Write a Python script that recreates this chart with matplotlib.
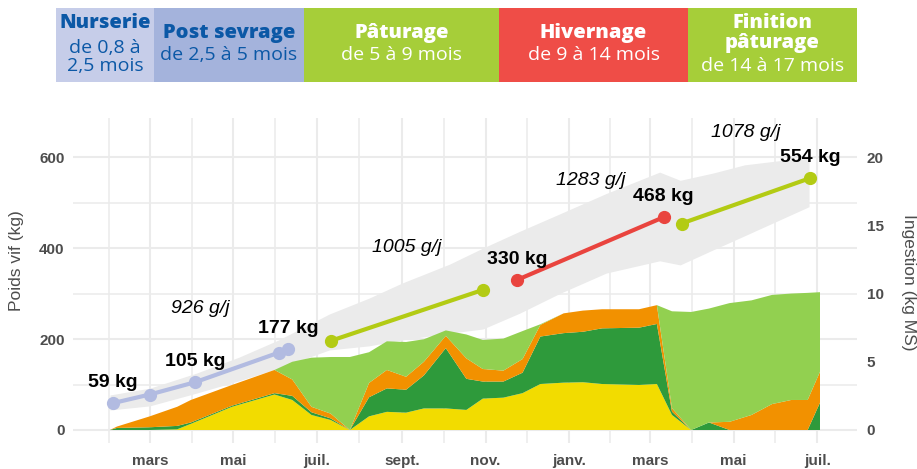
import matplotlib
matplotlib.use("Agg")
import matplotlib.pyplot as plt
from matplotlib.patches import Rectangle
import numpy as np
import pandas as pd

# ---------------- data ----------------
# stacked daily intake (kg MS), read on the right axis
area_dates = ['2022-01-31', '2022-02-05', '2022-03-01', '2022-03-21', '2022-03-31',
              '2022-04-30', '2022-05-31', '2022-06-13', '2022-06-27', '2022-07-11',
              '2022-07-25', '2022-08-08', '2022-08-21', '2022-09-04', '2022-09-17',
              '2022-10-03', '2022-10-18', '2022-10-30', '2022-11-14', '2022-11-28',
              '2022-12-11', '2022-12-28', '2023-01-11', '2023-01-25', '2023-02-21',
              '2023-03-06', '2023-03-17', '2023-03-31', '2023-04-13', '2023-04-28',
              '2023-05-14', '2023-05-29', '2023-06-12', '2023-06-24', '2023-07-03']
intake_yellow = [0, 0, 0, 0.05, 0.45, 1.7, 2.6, 2.2, 1.1, 0.73,
                 0, 1.0, 1.33, 1.27, 1.58, 1.58, 1.47, 2.3, 2.37, 2.7,
                 3.37, 3.47, 3.5, 3.37, 3.3, 3.37, 1.1, 0, 0, 0,
                 0, 0, 0, 0, 0]
intake_dkgreen = [0, 0.15, 0.2, 0.25, 0.1, 0.08, 0.1, 0.3, 0.2, 0.12,
                  0, 1.4, 1.72, 1.68, 2.42, 4.42, 2.28, 1.25, 1.18, 1.5,
                  3.48, 3.63, 3.7, 4.08, 4.2, 4.4, 0.25, 0, 0.55, 0,
                  0, 0, 0, 0, 2.0]
intake_orange = [0, 0.10, 0.8, 1.4, 1.65, 1.52, 1.7, 1.2, 0.4, 0.35,
                 0, 1.05, 1.35, 0.95, 1.0, 0.9, 1.5, 0.92, 0.8, 1.0,
                 0.85, 1.45, 1.55, 1.4, 1.35, 1.38, 0.25, 0, 0, 0.6,
                 1.1, 1.9, 2.2, 2.2, 2.27]
intake_ltgreen = [0, 0, 0, 0, 0, 0, 0, 1.3, 3.6, 4.15,
                  5.35, 2.25, 2.1, 2.55, 1.65, 0.4, 1.75, 2.13, 2.35, 2.05,
                  0.05, 0, 0, 0, 0, 0, 7.1, 8.65, 8.35, 8.7,
                  8.4, 8.0, 7.8, 7.85, 5.83]

# grey weight envelope (kg)
ribbon_dates = ['2022-01-31', '2022-03-01', '2022-04-04', '2022-05-05', '2022-06-03',
                '2022-07-10', '2022-08-08', '2022-09-01', '2022-10-06', '2022-10-30',
                '2022-11-26', '2022-12-25', '2023-01-28', '2023-03-08', '2023-03-23',
                '2023-04-16', '2023-05-09', '2023-06-25']
ribbon_low = [44, 53, 81, 108, 136, 176, 185, 198, 213, 222, 257, 300, 345, 372, 363, 396, 427, 491]
ribbon_high = [77, 92, 125, 160, 198, 255, 290, 323, 365, 400, 437, 475, 520, 567, 549, 565, 583, 600]

# live weight per phase (kg)
nurs_dates = ['2022-02-02', '2022-03-01', '2022-04-03', '2022-06-03', '2022-06-10']
nurs_kg = [59, 78, 105, 170, 177]
nurs_labelled = [0, 2, 4]
past_dates = ['2022-07-11', '2022-10-30']
past_kg = [196, 308]
past_labelled = []
hiv_dates = ['2022-11-24', '2023-03-11']
hiv_kg = [330, 468]
hiv_labelled = [0, 1]
fin_dates = ['2023-03-24', '2023-06-26']
fin_kg = [454, 554]
fin_labelled = [1]
gain_labels = ['926 g/j', '1005 g/j', '1283 g/j', '1078 g/j']

month_labels = ['mars', 'mai', 'juil.', 'sept.', 'nov.', 'janv.', 'mars', 'mai', 'juil.']
left_ticks = [0, 200, 400, 600]
right_ticks = [0, 5, 10, 15, 20]

header_titles = ['Nurserie', 'Post sevrage', 'Pâturage', 'Hivernage', 'Finition\npâturage']
header_subs = ['de 0,8 à\n2,5 mois', 'de 2,5 à 5 mois', 'de 5 à 9 mois', 'de 9 à 14 mois', 'de 14 à 17 mois']

# ---------------- style ----------------
K = 30  # kg live weight per kg MS on the right axis
plt.rcParams['font.family'] = ['Liberation Sans', 'DejaVu Sans']
GRID = '#ebebeb'
TXT = '#4d4d4d'
area_colors = ['#f2dc00', '#2e9a3b', '#f29100', '#92d050']
PURPLE, LIME, RED = '#b2bbe1', '#b3cb14', '#e9443e'
header_colors = ['#c6cde9', '#a4b3dc', '#a6ce39', '#ef4d47', '#a6ce39']
header_text_colors = ['#0b58a6', '#0b58a6', 'white', 'white', 'white']
header_edges = [56, 154, 304, 499, 688, 857]   # px layout
header_title_y = [23, 33, 33, 33, 33]
header_sub_y = [57, 55, 55, 55, 66]

fig = plt.figure(figsize=(9.17, 4.69), dpi=100)
ax = fig.add_axes([73 / 917, 26 / 469, 784 / 917, 325 / 469])

ax.fill_between(pd.to_datetime(ribbon_dates), ribbon_low, ribbon_high,
                color=GRID, lw=0, zorder=1)

adates = pd.to_datetime(area_dates)
ax.stackplot(adates,
             np.array(intake_yellow) * K, np.array(intake_dkgreen) * K,
             np.array(intake_orange) * K, np.array(intake_ltgreen) * K,
             colors=area_colors, lw=0, zorder=2)

phases = [(nurs_dates, nurs_kg, nurs_labelled, PURPLE),
          (past_dates, past_kg, past_labelled, LIME),
          (hiv_dates, hiv_kg, hiv_labelled, RED),
          (fin_dates, fin_kg, fin_labelled, LIME)]
for (d, kg, lab, col), g in zip(phases, gain_labels):
    dd = pd.to_datetime(d)
    ax.plot(dd, kg, color=col, lw=3, marker='o', ms=8.5, zorder=4,
            solid_capstyle='round')
    for i in lab:
        ax.annotate(f'{kg[i]} kg', (dd[i], kg[i]), xytext=(0, 15),
                    textcoords='offset points', ha='center', va='center',
                    fontsize=14, fontweight='bold', color='black', zorder=5)
    mid = dd[0] + (dd[-1] - dd[0]) / 2
    ax.text(mid, (kg[0] + kg[-1]) / 2 + 150, g, ha='center', va='center',
            fontsize=14, fontstyle='italic', color='black', zorder=5)

major = pd.date_range('2022-03-01', '2023-07-01', freq='2MS')
allb = pd.date_range('2022-01-01', '2023-09-01', freq='2MS')
minor = [allb[i] + (allb[i + 1] - allb[i]) / 2 for i in range(len(allb) - 1)]
ax.set_xticks(major)
ax.set_xticklabels(month_labels)
ax.set_xticks(minor, minor=True)
ax.set_yticks(left_ticks)
ax.set_yticks([100, 300, 500], minor=True)
ax.set_xlim(pd.Timestamp('2022-01-04'), pd.Timestamp('2023-07-30'))
ax.set_ylim(-28.6, 686)
ax.set_axisbelow(True)
ax.grid(which='major', color=GRID, lw=1.5)
ax.grid(which='minor', color=GRID, lw=1.1)
ax.tick_params(which='both', length=0)
ax.tick_params(axis='x', pad=8, labelsize=11, labelcolor=TXT)
ax.tick_params(axis='y', pad=6, labelsize=11, labelcolor=TXT)
for lbl in ax.get_xticklabels() + ax.get_yticklabels():
    lbl.set_fontweight('bold')
for s in ax.spines.values():
    s.set_visible(False)
ax.set_ylabel('Poids vif (kg)', fontsize=12.5, color=TXT)
ax.yaxis.set_label_coords(-0.063, 0.56)

sec = ax.secondary_yaxis('right', functions=(lambda v: v / K, lambda v: v * K))
sec.set_yticks(right_ticks)
sec.tick_params(length=0, pad=7, labelsize=11, labelcolor=TXT)
for lbl in sec.get_yticklabels():
    lbl.set_fontweight('bold')
for s in sec.spines.values():
    s.set_visible(False)
ax.text(1.066, 0.495, 'Ingestion (kg MS)', transform=ax.transAxes, rotation=270,
        ha='center', va='center', fontsize=12.5, color=TXT)

# header band
hax = fig.add_axes([0, 0, 1, 1], zorder=-1)
hax.set_xlim(0, 917)
hax.set_ylim(469, 0)
hax.axis('off')
for i in range(len(header_titles)):
    x0, x1 = header_edges[i], header_edges[i + 1]
    hax.add_patch(Rectangle((x0, 8), x1 - x0, 74, color=header_colors[i], lw=0))
    xc = (x0 + x1) / 2
    hax.text(xc, header_title_y[i], header_titles[i], ha='center', va='center',
             fontsize=14.5, fontweight='heavy', color=header_text_colors[i],
             family=['Open Sans', 'DejaVu Sans'], linespacing=0.95)
    hax.text(xc, header_sub_y[i], header_subs[i], ha='center', va='center',
             fontsize=14, color=header_text_colors[i],
             family=['Open Sans', 'DejaVu Sans'], linespacing=1.0)

fig.savefig('out.png', dpi=100)
